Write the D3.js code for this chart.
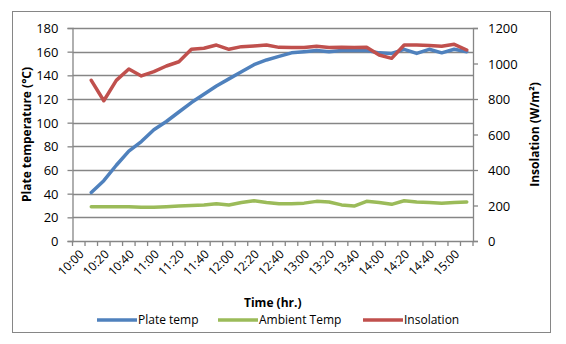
<!DOCTYPE html>
<html><head><meta charset="utf-8">
<script src="https://cdn.jsdelivr.net/npm/d3@7/dist/d3.min.js"></script>
<style>
html,body{margin:0;padding:0;background:#fff;}
svg text{font-family:"Open Sans","Noto Sans",sans-serif;fill:#000;}
</style></head>
<body><svg id="c" width="566" height="344"></svg>
<script>
const categories = ["10:00","10:10","10:20","10:30","10:40","10:50","11:00","11:10","11:20","11:30","11:40","11:50","12:00","12:10","12:20","12:30","12:40","12:50","13:00","13:10","13:20","13:30","13:40","13:50","14:00","14:10","14:20","14:30","14:40","14:50","15:00","15:10"];
const plateTemp = [null,41,51,64,76,84,94,101,109,117,124,131,137,143,149,153,156,159,160,161,160,161,161,161,159,158.5,162,158.5,162,159,162,160];
const ambientTemp = [null,29,29,29,29,28.5,28.5,29,29.5,30,30.5,31.5,30.5,32.5,34,32.5,31.5,31.5,32,33.5,33,30.5,29.5,33.5,32.5,31,34,33,32.5,32,32.5,33];
const insolation = [null,905,790,905,969,930,954,986,1010,1080,1086,1104,1080,1095,1099,1104,1091,1090,1090,1097,1090,1092,1090,1092,1048,1029,1104,1104,1102,1097,1108,1076];
const leftTicks = [0,20,40,60,80,100,120,140,160,180];
const rightTicks = [0,200,400,600,800,1000,1200];
const seriesNames = ["Plate temp","Ambient Temp","Insolation"];
const colors = ["#4F81BD","#9BBB59","#C0504D"];

const svg = d3.select("#c");
const L = 72.5, R = 473, T = 28, B = 241;
const gray = "#868686";

svg.append("rect").attr("x",12.5).attr("y",11.5).attr("width",538).attr("height",321)
  .attr("fill","#fff").attr("stroke",gray).attr("stroke-width",1);

const x = d3.scaleBand().domain(categories).range([L,R]).padding(0);
const yL = d3.scaleLinear().domain([0,180]).range([B,T]);
const yR = d3.scaleLinear().domain([0,1200]).range([B,T]);

// gridlines
svg.append("g").selectAll("line").data(leftTicks.filter(d=>d>0)).join("line")
  .attr("x1",L).attr("x2",R).attr("y1",d=>Math.round(yL(d))+0.5).attr("y2",d=>Math.round(yL(d))+0.5)
  .attr("stroke",gray).attr("stroke-width",1.3);

// left axis
const gL = svg.append("g").attr("transform",`translate(${L},0)`)
  .call(d3.axisLeft(yL).tickValues(leftTicks).tickSize(5).tickPadding(9).tickFormat(d3.format("d")));
gL.select(".domain").attr("stroke",gray).attr("stroke-width",1.3);
gL.selectAll(".tick line").attr("stroke",gray).attr("stroke-width",1.3);
gL.selectAll("text").style("font-size","13px").attr("dy","0.35em");

// right axis
const gR = svg.append("g").attr("transform",`translate(${R},0)`)
  .call(d3.axisRight(yR).tickValues(rightTicks).tickSize(5).tickPadding(10).tickFormat(d3.format("d")));
gR.select(".domain").attr("stroke",gray).attr("stroke-width",1.3);
gR.selectAll(".tick line").attr("stroke",gray).attr("stroke-width",1.3);
gR.selectAll("text").style("font-size","13px").attr("dy","0.35em");

// bottom axis
const bw = x.bandwidth();
const gB = svg.append("g");
gB.append("line").attr("x1",L).attr("x2",R).attr("y1",B+0.5).attr("y2",B+0.5).attr("stroke",gray).attr("stroke-width",1.3);
const bounds = categories.map(c=>x(c)).concat([x(categories[categories.length-1])+bw]);
gB.selectAll("line.tk").data(bounds).join("line").attr("class","tk")
  .attr("x1",d=>d).attr("x2",d=>d).attr("y1",B).attr("y2",B+5).attr("stroke",gray).attr("stroke-width",1.3);
gB.selectAll("text").data(categories.filter((c,i)=>i%2===0)).join("text")
  .attr("transform",d=>`translate(${x(d)+bw/2+3},${B+11}) rotate(-45)`)
  .attr("text-anchor","end").attr("dy","0.35em").style("font-size","12px").text(d=>d);

// lines
const series = [plateTemp, ambientTemp, insolation];
const scales = [yL, yL, yR];
series.forEach((s,i)=>{
  const line = d3.line().defined(d=>d.v!=null).x(d=>x(d.c)+bw/2).y(d=>scales[i](d.v));
  svg.append("path").datum(categories.map((c,j)=>({c,v:s[j]})))
    .attr("d",line).attr("fill","none").attr("stroke",colors[i]).attr("stroke-width",3.5)
    .attr("stroke-linejoin","round").attr("stroke-linecap","round");
});

// titles
svg.append("text").attr("transform",`translate(27,${(T+B)/2}) rotate(-90)`).attr("text-anchor","middle")
  .attr("dy","0.35em").style("font-size","12px").style("font-weight","bold").text("Plate temperature (°C)");
svg.append("text").attr("transform",`translate(535,${(T+B)/2}) rotate(-90)`).attr("text-anchor","middle")
  .attr("dy","0.35em").style("font-size","12px").style("font-weight","bold").text("Insolation (W/m²)");
svg.append("text").attr("x",(L+R)/2).attr("y",303).attr("text-anchor","middle")
  .attr("dy","0.35em").style("font-size","12px").style("font-weight","bold").text("Time (hr.)");

// legend
const legX = [97, 218, 363];
const lg = svg.append("g");
seriesNames.forEach((n,i)=>{
  lg.append("line").attr("x1",legX[i]).attr("x2",legX[i]+40).attr("y1",320).attr("y2",320)
    .attr("stroke",colors[i]).attr("stroke-width",3.5);
  lg.append("text").attr("x",legX[i]+41).attr("y",320).attr("dy","0.35em").style("font-size","12px").text(n);
});
</script></body></html>
